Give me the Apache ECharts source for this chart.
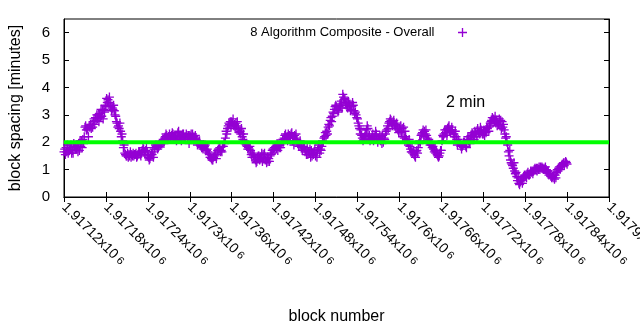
<!DOCTYPE html>
<html>
<head>
<meta charset="utf-8">
<script src="https://cdn.jsdelivr.net/npm/echarts@6/dist/echarts.min.js"></script>
<style>
html,body{margin:0;padding:0;background:#fff;}
#chart{width:640px;height:330px;}
</style>
</head>
<body>
<div id="chart"></div>
<script>
const seriesName = '8 Algorithm Composite - Overall';
const firstBlock = 1917120;
const blockStep = 3;
// samples at blocks firstBlock + 3*i
const spacingMinutesA = [
  1.65,1.8,1.6,1.75,1.7,1.85,1.75,1.95,1.85,2.1,
  2.55,2.45,2.6,2.5,2.75,2.9,2.85,3.05,2.95,3.2,
  3.3,3.55,3.4,3.25,3.15,2.75,2.6,2.4,2.05,1.6,
  1.5,1.55,1.45,1.6,1.55,1.5,1.65,1.6,1.75,1.7,
  1.5,1.4,1.55,1.75,1.85,1.8,1.9,2.05,2.15,2.25,
  2.2,2.1,2.3,2.15,2.25,2.2,2.05,2.3,2.2,2.15,
  2.25,2.15,2.2,2.1,2.0,1.9,1.8,1.85,1.7,1.6,
  1.45,1.35,1.5,1.6,1.75,1.7,1.85,2.15,2.5,2.65,
  2.75,2.6,2.7,2.55,2.4,2.2,2.05,1.9,1.8,1.7,
  1.6,1.45,1.3,1.5,1.4,1.55,1.35,1.45,1.3,1.6,
  1.75,1.85,1.7,1.9,1.95,2.15,2.1,2.3,2.2,2.05,
  2.25,2.1,1.85,1.9,1.75,1.65,1.8,1.6,1.7,1.55,
  1.5,1.7,1.6,1.85,2.15,2.25,2.55,2.8,2.95,3.2,
  3.3,3.15,3.35,3.75,3.6,3.4,3.3,3.2,3.35,3.1,
  2.85,2.5,2.25,2.1,2.3,2.5,2.05,2.2,2.1,2.3,
  2.15,2.05,2.25,2.1,2.45,2.7,2.8,2.75,2.6,2.55,
  2.5,2.35,2.55,2.2,2.0,1.85,1.65,1.55,1.65,1.8,
  2.0,2.35,2.4,2.25,2.1,1.95,1.85,1.7,1.55,1.5,
  1.7,2.2,2.35,2.5,2.4,2.55,2.3,2.2,2.1,1.95,
  1.85,2.0,1.8,2.05,2.15,2.3,2.4,2.2,2.35,2.45,
  2.3,2.4,2.5,2.6,2.8,2.85,2.7,2.75,2.6,2.75,
  2.45,2.2,1.65,1.35,1.15,0.95,0.75,0.5,0.6,0.7,
  0.75,0.85,0.8,0.9,0.95,1.0,1.05,1.0,1.1,1.05,
  1.0,0.95,0.85,0.75,0.65,0.9,1.05,1.1,1.2,1.25,
  1.2
];
// samples at blocks firstBlock + 1 + 3*i
const spacingMinutesB = [
  1.75,1.65,1.7,1.9,1.6,1.8,1.9,1.7,2.05,1.95,
  2.6,2.5,2.55,2.65,2.85,2.8,3.0,2.9,3.15,3.1,
  3.6,3.45,3.3,3.2,3.0,2.7,2.5,2.2,1.8,1.55,
  1.6,1.5,1.55,1.5,1.6,1.55,1.55,1.7,1.65,1.8,
  1.45,1.5,1.65,1.8,1.9,1.85,1.95,2.1,2.2,2.1,
  2.3,2.25,2.15,2.2,2.35,2.1,2.25,2.2,2.3,2.25,
  2.2,2.3,2.15,2.05,1.95,1.85,1.75,1.9,1.75,1.55,
  1.4,1.45,1.55,1.7,1.8,1.65,2.0,2.4,2.6,2.75,
  2.7,2.65,2.6,2.45,2.3,2.1,1.95,1.85,1.75,1.55,
  1.5,1.35,1.45,1.35,1.6,1.45,1.4,1.3,1.5,1.7,
  1.8,1.75,1.9,1.8,2.1,2.25,2.2,2.15,2.3,2.2,
  2.15,2.0,1.95,1.8,1.85,1.7,1.55,1.75,1.5,1.65,
  1.6,1.8,1.75,2.05,2.2,2.4,2.65,2.9,3.1,3.3,
  3.2,3.3,3.5,3.65,3.45,3.25,3.4,3.3,3.15,3.0,
  2.7,2.3,2.15,2.2,2.45,2.15,2.1,2.3,2.25,2.15,
  2.1,2.2,2.0,2.3,2.6,2.75,2.7,2.8,2.5,2.45,
  2.4,2.5,2.15,2.1,1.9,1.75,1.6,1.5,1.7,1.95,
  2.25,2.45,2.3,2.15,2.0,1.9,1.75,1.6,1.5,1.6,
  2.05,2.3,2.45,2.55,2.35,2.45,2.2,2.1,2.0,1.85,
  1.9,1.95,2.1,2.0,2.25,2.2,2.35,2.5,2.3,2.4,
  2.45,2.35,2.55,2.7,2.9,2.75,2.8,2.65,2.8,2.55,
  2.3,2.0,1.5,1.25,1.05,0.85,0.6,0.45,0.65,0.75,
  0.8,0.9,0.85,0.95,1.0,1.05,1.0,1.1,1.05,1.0,
  0.9,0.8,0.75,0.7,0.8,1.0,1.1,1.15,1.25,1.3
];
// samples at blocks firstBlock + 2 + 3*i
const spacingMinutesC = [
  1.55,1.9,1.7,1.6,1.95,1.75,1.65,2.05,1.8,2.2,
  2.45,2.2,2.65,2.55,2.65,3.0,2.75,3.2,2.85,3.35,
  3.45,3.65,3.15,3.35,2.95,2.55,2.7,2.3,1.9,1.5,
  1.45,1.65,1.5,1.55,1.45,1.65,1.5,1.8,1.55,1.65,
  1.35,1.6,1.45,1.9,1.75,1.95,2.0,1.95,2.3,2.15,
  2.1,2.35,2.2,2.05,2.4,2.15,2.3,2.1,2.25,1.95,
  2.3,2.1,2.25,1.9,2.05,1.8,1.9,1.7,1.65,1.45,
  1.35,1.55,1.4,1.75,1.65,1.85,1.95,2.3,2.7,2.55,
  2.85,2.5,2.75,2.35,2.5,2.3,1.95,1.75,1.85,1.45,
  1.55,1.25,1.5,1.45,1.3,1.6,1.25,1.4,1.55,1.75,
  1.7,1.95,1.8,2.0,2.0,2.3,2.05,2.25,2.35,1.9,
  2.3,1.95,2.05,1.7,1.8,1.55,1.65,1.45,1.6,1.75,
  1.45,1.9,1.7,2.0,2.35,2.3,2.6,2.75,3.05,3.35,
  3.1,3.4,3.25,3.55,3.35,3.5,3.15,3.45,3.05,2.9,
  2.6,2.45,2.05,2.3,2.6,2.25,2.15,2.05,2.4,2.0,
  2.25,1.95,2.15,2.4,2.5,2.85,2.6,2.65,2.7,2.35,
  2.6,2.2,2.4,2.0,2.1,1.65,1.7,1.45,1.6,2.05,
  2.3,2.2,2.45,2.05,1.9,1.8,1.65,1.65,1.45,1.7,
  2.25,2.45,2.25,2.6,2.45,2.3,2.4,1.9,1.95,1.75,
  2.0,1.85,2.2,1.95,2.35,2.1,2.3,2.35,2.55,2.3,
  2.25,2.55,2.4,2.75,2.7,2.95,2.6,2.85,2.5,2.65,
  2.15,1.9,1.7,1.2,1.25,0.9,0.7,0.55,0.5,0.8,
  0.7,0.8,0.95,0.85,1.05,0.95,1.1,1.05,1.0,1.1,
  0.95,0.85,0.7,0.8,0.7,0.95,1.0,1.2,1.15,1.25
];
const targetMinutes = 2;
const targetLabel = '2 min';
const xMin = 1917120, xMax = 1917900, xInterval = 60;
const xTickLabels = ['1.91712','1.91718','1.91724','1.9173','1.91736','1.91742','1.91748',
  '1.91754','1.9176','1.91766','1.91772','1.91778','1.91784','1.9179'];
const yMin = 0, yMax = 6.5, yInterval = 1;
const yTickLabels = ['0','1','2','3','4','5','6'];

const points = [];
spacingMinutesA.forEach((v, i) => points.push([firstBlock + i * blockStep, v]));
spacingMinutesB.forEach((v, i) => points.push([firstBlock + 1 + i * blockStep, v]));
spacingMinutesC.forEach((v, i) => points.push([firstBlock + 2 + i * blockStep, v]));

const FONT = 'Liberation Sans';
const plus = 'path://M11.5,0H15.5V11.5H27V15.5H15.5V27H11.5V15.5H0V11.5H11.5Z';
const chart = echarts.init(document.getElementById('chart'), null, {renderer: 'canvas'});
const tickCommon = {show: true, inside: true, length: 5, lineStyle: {color: '#000', width: 1}};
chart.setOption({
  animation: false,
  backgroundColor: '#fff',
  textStyle: {fontFamily: FONT, color: '#000'},
  grid: {left: 64, right: 31, top: 19, bottom: 133, containLabel: false, outerBoundsMode: 'none',
         show: true, borderColor: '#000', borderWidth: 1, backgroundColor: 'transparent'},
  legend: {
    show: true, data: [seriesName], right: 168, top: 21, align: 'right',
    itemWidth: 46, itemHeight: 9, icon: plus,
    textStyle: {fontFamily: FONT, fontSize: 13, color: '#000'},
    itemStyle: {color: '#9400d3'}
  },
  graphic: [{
    type: 'text', left: 446, top: 95,
    style: {text: targetLabel, font: '16px "Liberation Sans"', fill: '#000'}
  }],
  xAxis: [{
    type: 'value', min: xMin, max: xMax, interval: xInterval,
    name: 'block number', nameLocation: 'middle', nameGap: 112,
    nameTextStyle: {fontFamily: FONT, fontSize: 16, color: '#000'},
    axisLine: {show: true, lineStyle: {color: '#000', width: 1}},
    axisTick: tickCommon, splitLine: {show: false},
    axisLabel: {
      rotate: -45, margin: 8, color: '#000', fontFamily: FONT, fontSize: 14,
      hideOverlap: false, showMaxLabel: true, showMinLabel: true,
      formatter: function (v) {
        const idx = Math.round((v - xMin) / xInterval);
        return '{m|' + xTickLabels[idx] + 'x10}{s| 6}';
      },
      rich: {m: {fontFamily: FONT, fontSize: 14, color: '#000'}, s: {fontFamily: FONT, fontSize: 11, color: '#000'}}
    }
  }, {
    type: 'value', position: 'top', min: xMin, max: xMax, interval: xInterval,
    axisLine: {show: true, lineStyle: {color: '#000'}}, axisTick: tickCommon,
    axisLabel: {show: false}, splitLine: {show: false}
  }],
  yAxis: [{
    type: 'value', min: yMin, max: yMax, interval: yInterval,
    name: 'block spacing [minutes]', nameLocation: 'middle', nameGap: 40,
    nameTextStyle: {fontFamily: FONT, fontSize: 16, color: '#000'},
    axisLine: {show: true, lineStyle: {color: '#000'}},
    axisTick: tickCommon, splitLine: {show: false},
    axisLabel: {
      margin: 14, color: '#000', fontFamily: FONT, fontSize: 15, showMaxLabel: false,
      formatter: function (v) { return Number.isInteger(v) ? yTickLabels[v] : ''; }
    }
  }, {
    type: 'value', position: 'right', min: yMin, max: yMax, interval: yInterval,
    axisLine: {show: true, lineStyle: {color: '#000'}}, axisTick: tickCommon,
    axisLabel: {show: false}, splitLine: {show: false}
  }],
  series: [{
    name: seriesName, type: 'scatter', data: points,
    symbol: plus, symbolSize: 9, large: false,
    itemStyle: {color: '#9400d3', opacity: 1}, z: 2
  }, {
    name: 'target', type: 'line', data: [[xMin, targetMinutes], [xMax, targetMinutes]],
    symbol: 'none', lineStyle: {color: '#00ff00', width: 4}, z: 3, silent: true
  }]
});
</script>
</body>
</html>
